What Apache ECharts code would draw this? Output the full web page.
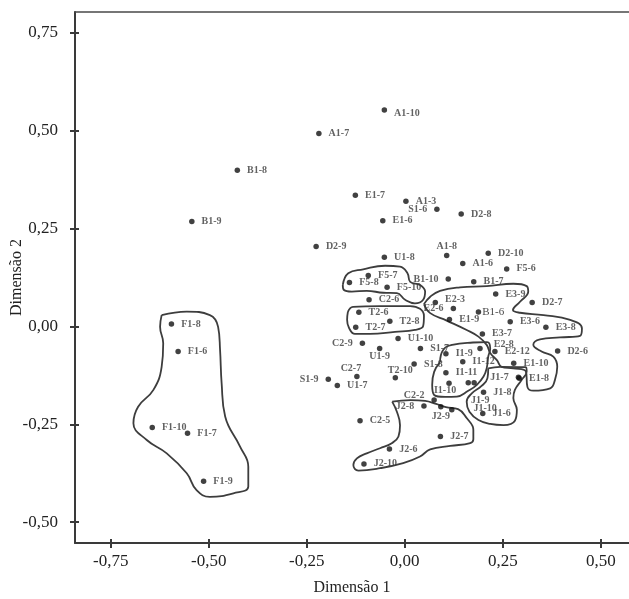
<!DOCTYPE html>
<html>
<head>
<meta charset="utf-8">
<script src="https://cdn.jsdelivr.net/npm/echarts@6/dist/echarts.min.js"></script>
<style>
html,body{margin:0;padding:0;background:#fff;}
#chart{width:629px;height:599px;}
</style>
</head>
<body>
<div id="chart"></div>
<script>
// ---- data (Dimensão 1, Dimensão 2) ----
const names = ['A1-10','A1-7','B1-8','B1-9','E1-7','A1-3','S1-6','D2-8','E1-6','D2-9',
  'U1-8','A1-8','A1-6','D2-10','F5-6','B1-10','B1-7','E3-9','D2-7','E2-3',
  'E2-6','B1-6','E1-9','E3-6','E3-8','E3-7','F5-7','F5-8','F5-10','C2-6',
  'T2-6','T2-8','T2-7','U1-10','C2-9','U1-9','S1-7','S1-8','C2-7','T2-10',
  'S1-9','U1-7','E2-8','I1-9','E2-12','D2-6','I1-12','E1-10','I1-11','J1-7',
  'E1-8','I1-10','J1-9','J1-10','J1-8','C2-2','J2-8','J2-9','','J1-6',
  'C2-5','J2-7','J2-6','J2-10','F1-8','F1-6','F1-10','F1-7','F1-9'];
const dim1 = [-0.052,-0.219,-0.427,-0.543,-0.126,0.003,0.082,0.144,-0.056,-0.226,
  -0.052,0.107,0.148,0.213,0.260,0.111,0.176,0.232,0.325,0.078,
  0.124,0.188,0.114,0.269,0.360,0.198,-0.093,-0.141,-0.045,-0.091,
  -0.117,-0.038,-0.125,-0.017,-0.108,-0.064,0.040,0.024,-0.122,-0.024,
  -0.195,-0.172,0.192,0.105,0.230,0.390,0.148,0.278,0.105,0.290,
  0.292,0.113,0.162,0.177,0.201,0.075,0.049,0.092,0.120,0.199,
  -0.114,0.091,-0.039,-0.104,-0.595,-0.578,-0.644,-0.554,-0.513];
const dim2 = [0.553,0.493,0.399,0.268,0.335,0.320,0.299,0.287,0.270,0.204,
  0.177,0.181,0.161,0.187,0.147,0.121,0.114,0.083,0.061,0.061,
  0.046,0.037,0.018,0.012,-0.002,-0.019,0.130,0.112,0.100,0.068,
  0.036,0.013,-0.002,-0.031,-0.043,-0.056,-0.056,-0.096,-0.128,-0.131,
  -0.135,-0.151,-0.056,-0.070,-0.064,-0.063,-0.090,-0.094,-0.118,-0.130,
  -0.132,-0.145,-0.144,-0.144,-0.168,-0.188,-0.203,-0.205,-0.213,-0.222,
  -0.241,-0.281,-0.313,-0.351,0.006,-0.064,-0.258,-0.273,-0.395];

// group outlines (data units)
const contourF = [[-0.620,0.029],[-0.556,0.038],[-0.497,0.029],[-0.476,-0.001],[-0.471,-0.060],[-0.467,-0.145],
  [-0.458,-0.230],[-0.420,-0.307],[-0.399,-0.358],[-0.399,-0.409],[-0.437,-0.426],[-0.497,-0.435],
  [-0.531,-0.418],[-0.556,-0.375],[-0.607,-0.324],[-0.658,-0.290],[-0.692,-0.247],[-0.680,-0.205],
  [-0.641,-0.162],[-0.620,-0.103],[-0.616,-0.043],[-0.624,-0.001]];
const contourF5 = [[-0.158,0.106],[-0.144,0.136],[-0.106,0.146],[-0.050,0.155],[-0.012,0.153],[0.007,0.136],
  [0.014,0.114],[0.039,0.106],[0.052,0.089],[0.047,0.068],[0.026,0.059],[0.001,0.068],
  [-0.020,0.085],[-0.055,0.086],[-0.097,0.091],[-0.135,0.089],[-0.155,0.093]];
const contourT2 = [[-0.145,0.037],[-0.132,0.050],[-0.063,0.052],[0.014,0.052],[0.039,0.045],[0.049,0.027],
  [0.047,0.001],[0.026,-0.009],[-0.025,-0.014],[-0.089,-0.019],[-0.127,-0.019],[-0.142,-0.004],[-0.147,0.017]];
const contourE = [[0.049,0.057],[0.065,0.076],[0.090,0.091],[0.141,0.100],[0.209,0.103],[0.277,0.109],
  [0.311,0.103],[0.315,0.089],[0.294,0.063],[0.276,0.042],[0.294,0.035],[0.354,0.029],
  [0.422,0.017],[0.452,-0.005],[0.447,-0.024],[0.396,-0.028],[0.345,-0.033],[0.328,-0.047],
  [0.349,-0.064],[0.379,-0.077],[0.389,-0.103],[0.383,-0.137],[0.371,-0.158],[0.328,-0.164],
  [0.313,-0.155],[0.309,-0.115],[0.277,-0.107],[0.247,-0.103],[0.235,-0.086],[0.218,-0.068],
  [0.209,-0.047],[0.188,-0.026],[0.158,-0.009],[0.107,0.015],[0.065,0.034]];
const contourI = [[0.090,-0.091],[0.098,-0.060],[0.121,-0.047],[0.174,-0.041],[0.210,-0.040],[0.218,-0.056],
  [0.213,-0.077],[0.209,-0.107],[0.201,-0.128],[0.184,-0.149],[0.161,-0.165],[0.133,-0.179],
  [0.103,-0.180],[0.075,-0.175],[0.070,-0.149],[0.075,-0.116]];
const contourJ1 = [[0.213,-0.107],[0.243,-0.103],[0.309,-0.104],[0.311,-0.115],[0.298,-0.137],[0.281,-0.162],
  [0.277,-0.183],[0.286,-0.213],[0.281,-0.241],[0.252,-0.252],[0.218,-0.249],[0.188,-0.239],
  [0.165,-0.218],[0.158,-0.192],[0.171,-0.171],[0.196,-0.152],[0.211,-0.132]];
const contourJ2 = [[-0.032,-0.192],[0.014,-0.188],[0.052,-0.190],[0.080,-0.198],[0.105,-0.206],[0.136,-0.211],
  [0.158,-0.234],[0.175,-0.264],[0.175,-0.288],[0.167,-0.298],[0.116,-0.305],[0.065,-0.314],
  [0.039,-0.332],[-0.004,-0.349],[-0.063,-0.362],[-0.118,-0.368],[-0.131,-0.354],[-0.122,-0.337],
  [-0.097,-0.324],[-0.063,-0.311],[-0.033,-0.298],[-0.016,-0.281],[-0.012,-0.252],[-0.020,-0.218]];
const contours = [contourF, contourF5, contourT2, contourE, contourI, contourJ1, contourJ2];

const xTicks = [-0.75,-0.50,-0.25,0.00,0.25,0.50];
const yTicks = [-0.50,-0.25,0.00,0.25,0.50,0.75];
const xRange = [-0.841, 0.572];
const yRange = [-0.553, 0.803];

// ---- label placement (style) ----
const labelStyle = {
  'S1-6':{position:'left'}, 'B1-10':{position:'left'}, 'E2-6':{position:'left'},
  'C2-9':{position:'left'}, 'S1-9':{position:'left'}, 'J1-7':{position:'left'},
  'J2-8':{position:'left'}, 'C2-2':{position:'left', offset:[0,-5]},
  'A1-8':{position:'top', distance:1}, 'C2-7':{position:'top', distance:0, offset:[-6,0]},
  'T2-10':{position:'top', distance:0, offset:[5,0]}, 'U1-9':{position:'bottom', distance:0},
  'I1-10':{position:'bottom', distance:0, offset:[-4,-1]}, 'J1-9':{position:'bottom', offset:[12,3]},
  'J1-10':{position:'bottom', offset:[11,11]}, 'J2-9':{position:'bottom', distance:2},
  'E2-8':{offset:[4,-4]}, 'E2-3':{offset:[0,-3]}, 'A1-10':{offset:[0,4]},
  'B1-6':{distance:1, fontWeight:'normal', fontSize:11, color:'#111'}
};

const serif = '"Liberation Serif","Times New Roman",serif';
const pts = names.map((n,i) => {
  const o = {name:n, value:[dim1[i], dim2[i]]};
  if (!n) o.label = {show:false};
  else if (labelStyle[n]) o.label = Object.assign({}, labelStyle[n]);
  return o;
});

const fmt = v => v.toFixed(2).replace('.', ',');
const axisColor = '#3a3a3a';

const series = contours.map(c => ({
  type:'line', data:c.concat([c[0]]), smooth:0.45, showSymbol:false, symbol:'none',
  silent:true, clip:false, z:1,
  lineStyle:{color:'#3d3d3d', width:1.8}
}));
series.push({
  type:'scatter', data:pts, symbolSize:5.5, z:5,
  itemStyle:{color:'#111'},
  label:{show:true, position:'right', distance:7, formatter:p=>p.name,
    fontFamily:serif, fontWeight:'bold', fontSize:10, color:'#3a3a3a'}
});

const chart = echarts.init(document.getElementById('chart'), null, {renderer:'canvas'});
chart.setOption({
  animation:false,
  backgroundColor:'#fff',
  grid:{left:75, right:0, top:12, bottom:56, containLabel:false, outerBoundsMode:'none'},
  xAxis:[
    {type:'value', min:xRange[0], max:xRange[1], position:'bottom',
     name:'Dimensão 1', nameLocation:'middle', nameGap:37, nameMoveOverlap:false,
     nameTextStyle:{fontFamily:serif, fontSize:16, color:'#222'},
     axisLine:{show:true, onZero:false, lineStyle:{color:axisColor, width:2}},
     axisTick:{show:true, customValues:xTicks, length:5, lineStyle:{color:axisColor, width:2}},
     axisLabel:{customValues:xTicks, formatter:fmt, margin:10, fontFamily:serif, fontSize:17, color:'#222'},
     splitLine:{show:false}},
    {type:'value', min:xRange[0], max:xRange[1], position:'bottom',
     axisLine:{show:false, onZero:false},
     axisTick:{show:true, inside:true, customValues:xTicks, length:4, lineStyle:{color:axisColor, width:2}},
     axisLabel:{show:false}, splitLine:{show:false}},
    {type:'value', min:xRange[0], max:xRange[1], position:'top',
     axisLine:{show:true, onZero:false, lineStyle:{color:'#4a4a4a', width:1.5}},
     axisTick:{show:false}, axisLabel:{show:false}, splitLine:{show:false}}
  ],
  yAxis:[
    {type:'value', min:yRange[0], max:yRange[1], position:'left',
     name:'Dimensão 2', nameLocation:'middle', nameGap:58, nameMoveOverlap:false,
     nameTextStyle:{fontFamily:serif, fontSize:16, color:'#222', verticalAlign:'middle', lineHeight:16},
     axisLine:{show:true, onZero:false, lineStyle:{color:axisColor, width:2}},
     axisTick:{show:true, customValues:yTicks, length:5, lineStyle:{color:axisColor, width:2}},
     axisLabel:{customValues:yTicks, formatter:fmt, margin:17, fontFamily:serif, fontSize:17, color:'#222'},
     splitLine:{show:false}},
    {type:'value', min:yRange[0], max:yRange[1], position:'left',
     axisLine:{show:false, onZero:false},
     axisTick:{show:true, inside:true, customValues:yTicks, length:4, lineStyle:{color:axisColor, width:2}},
     axisLabel:{show:false}, splitLine:{show:false}}
  ],
  series:series
});
</script>
</body>
</html>
